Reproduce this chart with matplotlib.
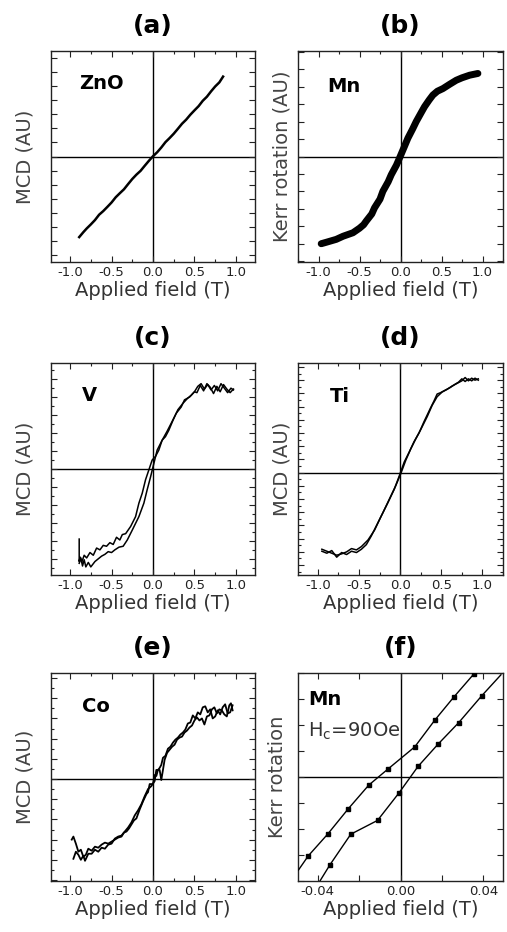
"""
Six-panel magnetic response figure: MCD / Kerr rotation vs applied field.
"""

import matplotlib.pyplot as plt
from matplotlib.ticker import MultipleLocator, FixedLocator

plt.rcParams['axes.unicode_minus'] = False
plt.rcParams['font.family'] = 'DejaVu Sans'
plt.rcParams['mathtext.default'] = 'regular'

# ---- data ------------------------------------------------------------------
# (a) ZnO, MCD
zno_x = [-0.89, -0.84, -0.80, -0.75, -0.70, -0.65, -0.60, -0.55, -0.50, -0.45,
         -0.40, -0.35, -0.30, -0.25, -0.20, -0.15, -0.10, -0.05, 0.00, 0.05,
         0.10, 0.15, 0.20, 0.25, 0.30, 0.35, 0.40, 0.45, 0.50, 0.55, 0.60,
         0.65, 0.70, 0.75, 0.80, 0.845]
zno_y = [-5.73, -5.38, -5.12, -4.83, -4.52, -4.14, -3.88, -3.58, -3.27, -2.90,
         -2.61, -2.33, -1.96, -1.60, -1.29, -1.02, -0.66, -0.31, 0.02, 0.30,
         0.64, 1.02, 1.31, 1.62, 1.97, 2.33, 2.62, 2.97, 3.28, 3.58, 3.96,
         4.25, 4.63, 4.98, 5.27, 5.68]

# (b) Mn, Kerr rotation
mn_x = [-0.967, -0.90, -0.784, -0.70, -0.58, -0.50, -0.45, -0.418, -0.35, -0.317,
        -0.25, -0.215, -0.15, -0.113, -0.05, -0.012, 0.05, 0.09, 0.15, 0.191,
        0.25, 0.293, 0.35, 0.395, 0.45, 0.517, 0.60, 0.68, 0.75, 0.843, 0.944]
mn_y = [-5.01, -4.92, -4.76, -4.58, -4.38, -4.12, -3.92, -3.71, -3.30, -2.95,
        -2.45, -2.0, -1.45, -1.05, -0.50, -0.09, 0.60, 1.05, 1.60, 2.0,
        2.50, 2.86, 3.25, 3.53, 3.75, 3.9, 4.15, 4.38, 4.52, 4.67, 4.77]

# (c) V, MCD loop (field sweeping down, then up)
v_dn_x = [0.97, 0.93, 0.89, 0.85, 0.81, 0.77, 0.73, 0.69, 0.65, 0.61, 0.57, 0.53,
          0.50, 0.44, 0.38, 0.34, 0.28, 0.22, 0.17, 0.11, 0.07, 0.03, -0.01, -0.05,
          -0.09, -0.13, -0.17, -0.21, -0.27, -0.33, -0.37, -0.40, -0.44, -0.48,
          -0.52, -0.56, -0.60, -0.64, -0.68, -0.72, -0.76, -0.80, -0.83, -0.86,
          -0.88, -0.89, -0.89]
v_dn_y = [8.9, 8.5, 8.9, 9.4, 8.6, 9.2, 8.4, 9.1, 9.5, 8.7, 9.3, 8.5,
          8.6, 8.0, 7.7, 6.9, 6.2, 5.1, 4.2, 3.2, 2.1, 1.4, 1.0, -0.1,
          -1.2, -2.7, -3.8, -5.3, -6.4, -7.2, -7.3, -7.9, -7.6, -8.4,
          -8.2, -8.6, -8.5, -9.0, -8.8, -9.6, -9.3, -9.9, -9.6, -10.4,
          -9.8, -10.3, -7.8]
v_up_x = [-0.89, -0.87, -0.85, -0.83, -0.81, -0.78, -0.75, -0.70, -0.66, -0.62,
          -0.58, -0.54, -0.50, -0.46, -0.41, -0.36, -0.31, -0.25, -0.17, -0.11,
          -0.07, -0.03, 0.01, 0.05, 0.11, 0.15, 0.19, 0.24, 0.30, 0.36, 0.42,
          0.46, 0.50, 0.54, 0.58, 0.62, 0.66, 0.70, 0.74, 0.78, 0.82, 0.86,
          0.90, 0.94, 0.97]
v_up_y = [-10.5, -9.9, -10.8, -10.1, -10.9, -10.4, -10.9, -10.3, -10.0, -9.7,
          -9.5, -9.2, -9.3, -9.0, -8.7, -8.6, -7.9, -6.8, -5.3, -3.8,
          -2.3, -0.9, 0.6, 2.1, 3.2, 3.6, 4.3, 5.4, 6.6, 7.3, 7.9,
          8.2, 8.6, 9.2, 9.5, 8.9, 9.4, 8.8, 9.3, 8.7, 9.5, 9.0,
          8.5, 9.0, 8.8]

# (d) Ti, MCD loop
ti_dn_x = [0.95, 0.91, 0.87, 0.83, 0.79, 0.75, 0.71, 0.67, 0.61, 0.55, 0.49, 0.45,
           0.41, 0.37, 0.29, 0.23, 0.17, 0.11, 0.05, -0.01, -0.07, -0.15, -0.23,
           -0.31, -0.39, -0.47, -0.53, -0.59, -0.65, -0.71, -0.77, -0.83, -0.89,
           -0.95]
ti_dn_y = [14.0, 14.3, 13.9, 14.2, 13.8, 14.2, 13.7, 13.4, 12.9, 12.5, 12.1, 11.9,
           10.8, 9.8, 7.7, 6.0, 4.7, 3.1, 1.6, -0.5, -2.5, -4.6, -6.6,
           -8.7, -10.2, -11.2, -11.7, -11.5, -12.0, -12.3, -12.5, -12.2, -11.9,
           -11.6]
ti_up_x = [-0.95, -0.89, -0.83, -0.77, -0.71, -0.65, -0.59, -0.53, -0.47, -0.41,
           -0.35, -0.29, -0.21, -0.13, -0.05, 0.01, 0.07, 0.13, 0.19, 0.25, 0.33,
           0.39, 0.45, 0.51, 0.57, 0.63, 0.69, 0.75, 0.79, 0.83, 0.87, 0.91, 0.95]
ti_up_y = [-11.9, -12.2, -11.8, -12.8, -12.1, -12.4, -11.9, -12.1, -11.6, -10.9,
           -9.6, -8.1, -6.1, -4.0, -1.9, -0.1, 1.9, 3.6, 5.1, 6.5, 8.5,
           10.2, 11.5, 12.2, 12.6, 13.1, 13.5, 13.9, 14.4, 13.9, 14.3, 14.0, 14.2]

# (e) Co, MCD loop
co_dn_x = [0.96, 0.93, 0.90, 0.87, 0.84, 0.81, 0.78, 0.75, 0.72, 0.69, 0.66, 0.63,
           0.60, 0.57, 0.54, 0.51, 0.48, 0.45, 0.42, 0.39, 0.36, 0.33, 0.30, 0.27,
           0.24, 0.21, 0.18, 0.15, 0.12, 0.10, 0.08, 0.06, 0.04, 0.02, 0.00, -0.04,
           -0.06, -0.08, -0.12, -0.16, -0.20, -0.23, -0.26, -0.29, -0.32, -0.35,
           -0.38, -0.42, -0.46, -0.50, -0.54, -0.58, -0.62, -0.66, -0.70, -0.74,
           -0.78, -0.81, -0.84, -0.87, -0.90, -0.93, -0.96, -0.98]
co_dn_y = [7.3, 6.6, 6.5, 7.4, 7.1, 6.4, 6.8, 6.2, 6.0, 6.9, 6.6, 7.2,
           7.1, 6.4, 6.6, 6.0, 6.3, 5.6, 5.5, 4.9, 4.6, 4.4, 4.1, 3.9,
           3.6, 3.2, 3.0, 2.3, 2.1, 1.4, 1.1, 0.9, 0.3, 0.4, -0.5, -0.5,
           -1.3, -1.5, -2.2, -3.0, -3.9, -4.1, -4.5, -4.9, -5.2, -5.3,
           -5.7, -5.8, -6.0, -6.2, -6.4, -6.3, -6.5, -6.8, -6.7, -7.1,
           -6.9, -7.5, -7.7, -7.0, -7.2, -6.4, -5.7, -6.0]
co_up_x = [-0.96, -0.93, -0.90, -0.87, -0.84, -0.82, -0.78, -0.74, -0.70, -0.66,
           -0.62, -0.58, -0.54, -0.50, -0.46, -0.42, -0.38, -0.34, -0.30, -0.26,
           -0.22, -0.18, -0.14, -0.10, -0.06, -0.02, 0.02, 0.04, 0.08, 0.10, 0.12,
           0.14, 0.17, 0.20, 0.23, 0.26, 0.29, 0.32, 0.35, 0.38, 0.41, 0.44, 0.47,
           0.50, 0.53, 0.56, 0.59, 0.62, 0.65, 0.68, 0.71, 0.74, 0.77, 0.80, 0.83,
           0.86, 0.89, 0.92, 0.94, 0.96]
co_up_y = [-7.9, -7.2, -7.5, -8.0, -7.6, -8.1, -7.4, -7.4, -7.0, -7.2,
           -6.8, -6.9, -6.5, -6.4, -5.9, -5.7, -5.6, -5.2, -4.8, -4.3,
           -3.6, -3.1, -2.5, -1.7, -1.0, -0.7, -0.2, 0.9, 0.9, -0.1, 0.9,
           1.9, 2.6, 2.9, 3.2, 3.4, 3.9, 4.1, 4.2, 4.6, 4.8, 5.1, 5.3,
           5.8, 6.1, 5.8, 6.0, 5.4, 6.2, 6.3, 6.9, 7.1, 6.5, 6.9, 6.8,
           6.4, 6.2, 7.3, 7.5, 6.8]

# (f) Mn, minor field range, Kerr rotation
mnf_a_x = [-0.0493, -0.0445, -0.0352, -0.0252, -0.0153, -0.0060, 0.0069, 0.0165,
           0.0257, 0.0355]
mnf_a_y = [-3.58, -3.03, -2.20, -1.22, -0.31, 0.31, 1.16, 2.18, 3.07, 3.97]
mnf_b_x = [-0.0389, -0.0341, -0.0240, -0.0111, -0.0008, 0.0085, 0.0181, 0.0281,
           0.0393, 0.0485]
mnf_b_y = [-4.00, -3.38, -2.20, -1.67, -0.62, 0.41, 1.26, 2.09, 3.13, 3.93]

field_ticks = [-1.0, -0.5, 0.0, 0.5, 1.0]
field_ticks_f = [-0.04, -0.02, 0.0, 0.02, 0.04]
field_labels_f = ['-0.04', '', '0.00', '', '0.04']

# ---- layout (pixels of the 507x932 canvas) --------------------------------
W, H = 507, 932
COLS = [(51, 204), (298, 205)]
ROWS = [(51, 262), (363, 575), (673, 881)]


def make_axes(fig, row, col):
    x0, w = COLS[col]
    top, bot = ROWS[row]
    return fig.add_axes([x0 / W, 1 - bot / H, w / W, (bot - top) / H])


def style_axes(ax, title, ylabel, ylim, ystep, ymajor=None, labelpad=12,
               xlim=(-1.23, 1.23)):
    ax.set_xlim(*xlim)
    ax.set_ylim(*ylim)
    ax.axhline(0, color='black', lw=1.0, zorder=1)
    ax.axvline(0, color='black', lw=1.0, zorder=1)
    for sp in ax.spines.values():
        sp.set_linewidth(1.0)
        sp.set_color('#222222')
    if ymajor is None:
        ax.yaxis.set_major_locator(MultipleLocator(ystep))
    else:
        ax.yaxis.set_major_locator(MultipleLocator(ymajor))
        ax.yaxis.set_minor_locator(MultipleLocator(ystep))
    ax.tick_params(axis='both', which='both', direction='in', top=True,
                   right=True, width=0.8, colors='#222222')
    ax.tick_params(axis='both', which='major', length=4)
    ax.tick_params(axis='both', which='minor', length=2)
    ax.tick_params(axis='y', which='both', labelleft=False)
    ax.tick_params(axis='x', labelsize=9.5, pad=3)
    ax.set_title(title, fontsize=18, fontweight='bold', pad=13)
    ax.set_xlabel('Applied field (T)', fontsize=14, color='#333333', labelpad=1)
    ax.set_ylabel(ylabel, fontsize=14, color='#444444', labelpad=labelpad)


def field_axis(ax):
    ax.xaxis.set_major_locator(FixedLocator(field_ticks))
    ax.set_xticklabels([f'{t:.1f}' for t in field_ticks])
    ax.xaxis.set_minor_locator(MultipleLocator(0.25))


fig = plt.figure(figsize=(W / 100, H / 100), dpi=100)

# (a)
ax = make_axes(fig, 0, 0)
ax.plot(zno_x, zno_y, color='black', lw=1.8, zorder=3)
field_axis(ax)
style_axes(ax, '(a)', 'MCD (AU)', (-7.5, 7.5), 1)
ax.text(0.14, 0.89, 'ZnO', transform=ax.transAxes, fontsize=14,
        fontweight='bold', va='top', ha='left')

# (b)
ax = make_axes(fig, 0, 1)
ax.plot(mn_x, mn_y, color='black', lw=5.0, solid_capstyle='round',
        solid_joinstyle='round', zorder=3)
field_axis(ax)
style_axes(ax, '(b)', 'Kerr rotation (AU)', (-6.06, 6.06), 1, labelpad=5,
           xlim=(-1.25, 1.25))
ax.text(0.145, 0.875, 'Mn', transform=ax.transAxes, fontsize=14,
        fontweight='bold', va='top', ha='left')

# (c)
ax = make_axes(fig, 1, 0)
ax.plot(v_dn_x, v_dn_y, color='black', lw=1.1, zorder=3)
ax.plot(v_up_x, v_up_y, color='black', lw=1.1, zorder=3)
field_axis(ax)
style_axes(ax, '(c)', 'MCD (AU)', (-11.8, 11.8), 1, ymajor=2)
ax.text(0.15, 0.89, 'V', transform=ax.transAxes, fontsize=14,
        fontweight='bold', va='top', ha='left')

# (d)
ax = make_axes(fig, 1, 1)
ax.plot(ti_dn_x, ti_dn_y, color='black', lw=1.1, zorder=3)
ax.plot(ti_up_x, ti_up_y, color='black', lw=1.1, zorder=3)
field_axis(ax)
style_axes(ax, '(d)', 'MCD (AU)', (-15.5, 16.6), 1, ymajor=2, labelpad=5,
           xlim=(-1.24, 1.25))
ax.text(0.155, 0.885, 'Ti', transform=ax.transAxes, fontsize=14,
        fontweight='bold', va='top', ha='left')

# (e)
ax = make_axes(fig, 2, 0)
ax.plot(co_dn_x, co_dn_y, color='black', lw=1.3, zorder=3)
ax.plot(co_up_x, co_up_y, color='black', lw=1.3, zorder=3)
field_axis(ax)
style_axes(ax, '(e)', 'MCD (AU)', (-10.1, 10.5), 1, ymajor=2)
ax.text(0.15, 0.885, 'Co', transform=ax.transAxes, fontsize=14,
        fontweight='bold', va='top', ha='left')

# (f)
ax = make_axes(fig, 2, 1)
ax.plot(mnf_a_x, mnf_a_y, color='black', lw=1.0, marker='s', ms=3.5,
        markevery=list(range(1, len(mnf_a_x))), zorder=3)
ax.plot(mnf_b_x, mnf_b_y, color='black', lw=1.0, marker='s', ms=3.5,
        markevery=list(range(1, len(mnf_b_x) - 1)), zorder=3)
ax.xaxis.set_major_locator(FixedLocator(field_ticks_f))
ax.set_xticklabels(field_labels_f)
style_axes(ax, '(f)', 'Kerr rotation', (-4.0, 4.0), 1, labelpad=8,
           xlim=(-0.0495, 0.0495))
ax.text(0.05, 0.92, 'Mn', transform=ax.transAxes, fontsize=14,
        fontweight='bold', va='top', ha='left')
ax.text(0.05, 0.77, 'H$_c$=90Oe', transform=ax.transAxes, fontsize=14,
        color='#333333', va='top', ha='left')

fig.savefig('out.png', dpi=100)
plt.close(fig)
